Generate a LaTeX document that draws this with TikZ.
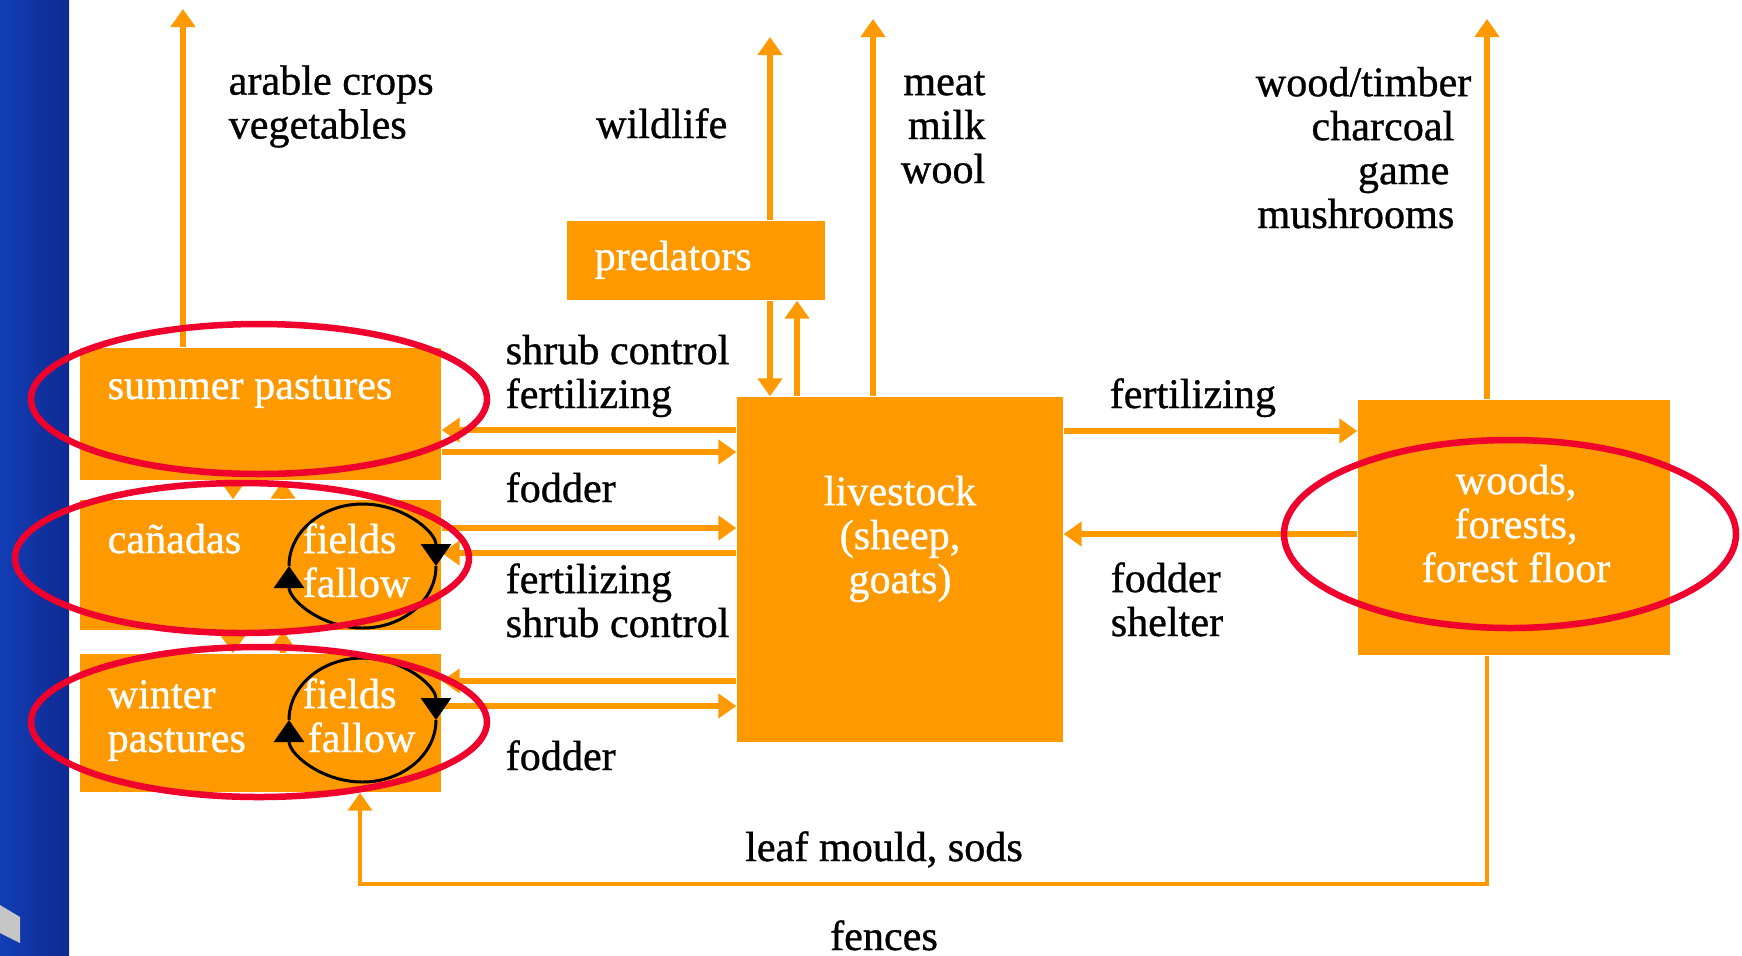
\documentclass[tikz,border=0pt]{standalone}
\usepackage{fontspec}
\setmainfont{Liberation Serif}
\newfontfamily\diagfont{Liberation Serif}[FakeBold=0.8]
\usetikzlibrary{arrows.meta}
\definecolor{agorange}{RGB}{255,153,0}
\definecolor{agred}{RGB}{240,0,45}
\definecolor{barblue}{RGB}{18,62,182}
\definecolor{barbluedark}{RGB}{14,42,145}

\begin{document}
\begin{tikzpicture}[>={Triangle[length=0.18cm,width=0.24cm]},
    box/.style={fill=agorange,inner sep=0pt},
    intxt/.style={text=white,inner sep=0pt,font=\diagfont\fontsize{12}{12.5}\selectfont},
    lbl/.style={inner sep=0pt,font=\diagfont\fontsize{12}{12.5}\selectfont},
    flow/.style={draw=agorange,line width=0.065cm},
    thinflow/.style={draw=agorange,line width=0.035cm},
    fallowloop/.style={draw=black,line width=0.03cm,>={Triangle[length=0.22cm,width=0.3cm]}},
    ring/.style={draw=agred,line width=0.065cm}]
    \useasboundingbox (0,0) rectangle (17.42,-9.55);
    \fill[white] (0,0) rectangle (17.42,-9.55);
    % blue slide border
    \shade[left color=barblue,right color=barbluedark] (0,0) rectangle (0.69,-9.55);
    \fill[gray!45] (0,-9.05) -- (0.20,-9.17) -- (0.20,-9.43) -- (0,-9.33) -- cycle;

    \node[box,minimum width=3.61cm,minimum height=1.32cm] (summer) at (2.605,-4.14) {};
    \node[box,minimum width=3.61cm,minimum height=1.30cm] (canadas) at (2.605,-5.65) {};
    \node[box,minimum width=3.61cm,minimum height=1.38cm] (winter) at (2.605,-7.23) {};
    \node[box,minimum width=2.58cm,minimum height=0.79cm] (predators) at (6.96,-2.605) {};
    \node[box,minimum width=3.26cm,minimum height=3.45cm] (livestock) at (9.00,-5.695) {};
    \node[box,minimum width=3.12cm,minimum height=2.55cm] (woods) at (15.14,-5.275) {};

    \coordinate (crops) at (1.83,-0.09);
    \coordinate (wild) at (7.70,-0.37);
    \coordinate (prey) at (7.97,-0.37);
    \coordinate (prod) at (8.73,-0.19);
    \coordinate (timber) at (14.87,-0.19);
    \coordinate (mould) at (3.60,-8.84);

    % products leaving the system
    \draw[flow,->] (summer.north -| crops) -- (crops);
    \draw[flow,->] (predators.north -| wild) -- (wild);
    \draw[flow,->] (livestock.north -| prod) -- (prod);
    \draw[flow,->] (woods.north -| timber) -- (timber);
    \draw[flow,->] (predators.south -| wild) -- (livestock.north -| wild);
    \draw[flow,->] (livestock.north -| prey) -- (predators.south -| prey);

    % pastures <-> livestock
    \draw[flow,->] (livestock.west |- 0,-4.30) -- (summer.east |- 0,-4.30);
    \draw[flow,->] (summer.east |- 0,-4.52) -- (livestock.west |- 0,-4.52);
    \draw[flow,->] (canadas.east |- 0,-5.28) -- (livestock.west |- 0,-5.28);
    \draw[flow,->] (livestock.west |- 0,-5.53) -- (canadas.east |- 0,-5.53);
    \draw[flow,->] (livestock.west |- 0,-6.81) -- (winter.east |- 0,-6.81);
    \draw[flow,->] (winter.east |- 0,-7.06) -- (livestock.west |- 0,-7.06);
    % livestock <-> woods
    \draw[flow,->] (livestock.east |- 0,-4.31) -- (woods.west |- 0,-4.31);
    \draw[flow,->] (woods.west |- 0,-5.34) -- (livestock.east |- 0,-5.34);

    % transhumance
    \draw[flow,->] (summer.south -| 2.33,0) -- (canadas.north -| 2.33,0);
    \draw[flow,->] (canadas.north -| 2.83,0) -- (summer.south -| 2.83,0);
    \draw[flow,->] (canadas.south -| 2.33,0) -- (winter.north -| 2.33,0);
    \draw[flow,->] (winter.north -| 2.83,0) -- (canadas.south -| 2.83,0);

    \draw[thinflow,->] (woods.south -| timber) |- (mould) -- (winter.south -| mould);

    % fields / fallow rotation
    \foreach \cy in {-5.66,-7.20} {
        \draw[fallowloop,->] (3.625,\cy) ++(0,-0.62) arc[start angle=270,end angle=180,x radius=0.735,y radius=0.62];
        \draw[fallowloop,->] (3.625,\cy) ++(-0.735,0) arc[start angle=180,end angle=0,x radius=0.735,y radius=0.62];
        \draw[fallowloop] (3.625,\cy) ++(0.735,0) arc[start angle=0,end angle=-90,x radius=0.735,y radius=0.62];
    }

    \node[intxt,anchor=base west] (summer-t) at (1.07,-3.99) {summer pastures};
    \node[intxt,anchor=base west] (canadas-t) at (1.07,-5.53) {cañadas};
    \node[intxt,anchor=base west,align=left] (canadas-f) at (3.02,-5.97) {fields\\fallow};
    \node[intxt,anchor=base west,align=left] (winter-t) at (1.07,-7.52) {winter\\pastures};
    \node[intxt,anchor=base west,align=left] (winter-f) at (3.02,-7.52) {fields\\\kern0.05cm fallow};
    \node[intxt,anchor=base west] (predators-t) at (5.94,-2.70) {predators};
    \node[intxt,anchor=base,align=center] (livestock-t) at (9.00,-5.93) {livestock\\(sheep,\\goats)};
    \node[intxt,anchor=base,align=center] (woods-t) at (15.16,-5.82) {woods,\\forests,\\forest floor};

    \node[lbl,anchor=base west,align=left] (crops-l) at (2.28,-1.385) {arable crops\\vegetables};
    \node[lbl,anchor=base east] (wild-l) at (7.28,-1.38) {wildlife};
    \node[lbl,anchor=base east,align=right] (prod-l) at (9.86,-1.83) {meat\\milk\\wool};
    \node[lbl,anchor=base east,align=right] (timber-l) at (14.72,-2.28) {wood/timber\\charcoal\kern0.17cm\\game\kern0.22cm\\mushrooms\kern0.17cm};
    \node[lbl,anchor=base west,align=left] (top-l) at (5.05,-4.08) {shrub control\\fertilizing};
    \node[lbl,anchor=base west] (fod1-l) at (5.05,-5.02) {fodder};
    \node[lbl,anchor=base west,align=left] (mid-l) at (5.05,-6.37) {fertilizing\\shrub control};
    \node[lbl,anchor=base west] (fod2-l) at (5.05,-7.70) {fodder};
    \node[lbl,anchor=base west] (fert-l) at (11.09,-4.08) {fertilizing};
    \node[lbl,anchor=base west,align=left] (shelter-l) at (11.10,-6.36) {fodder\\shelter};
    \node[lbl,anchor=base] (mould-l) at (8.84,-8.61) {leaf mould, sods};
    \node[lbl,anchor=base] (fences-l) at (8.84,-9.50) {fences};

    % highlighted land-use units
    \draw[ring] (2.59,-3.99) ellipse [x radius=2.28,y radius=0.75];
    \draw[ring] (2.42,-5.58) ellipse [x radius=2.27,y radius=0.75];
    \draw[ring] (2.59,-7.22) ellipse [x radius=2.28,y radius=0.75];
    \draw[ring] (15.10,-5.34) ellipse [x radius=2.26,y radius=0.94];
\end{tikzpicture}
\end{document}
